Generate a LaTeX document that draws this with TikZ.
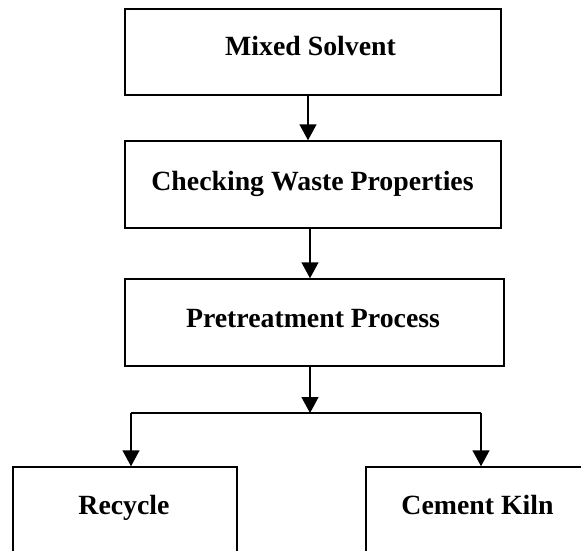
\documentclass[tikz,border=0pt]{standalone}
\usepackage{fontspec}
\setmainfont{Liberation Serif}
\usetikzlibrary{arrows.meta}
\tikzset{
  stagebox/.style={draw, line width=1.5pt, rectangle, inner sep=0pt},
  stagetext/.style={anchor=base, inner sep=0pt, font=\fontsize{27.8}{30}\selectfont\bfseries},
  flow/.style={line width=1.5pt, -{Triangle[width=17pt,length=16pt]}},
  link/.style={line width=1.5pt}
}
\begin{document}
\begin{tikzpicture}[x=1pt, y=-1pt]
  \useasboundingbox (0,0) rectangle (581,551);
  \clip (0,0) rectangle (581,551);

  % process boxes
  \node[stagebox, minimum width=376pt, minimum height=86pt] (mix) at (313,52) {};
  \node[stagebox, minimum width=376pt, minimum height=87pt] (check) at (313,184.5) {};
  \node[stagebox, minimum width=379pt, minimum height=87pt] (pre) at (314.5,322.5) {};
  \node[stagebox, minimum width=224pt, minimum height=98pt] (rec) at (125,516) {};
  \node[stagebox, minimum width=234pt, minimum height=98pt] (kiln) at (483,516) {};

  % labels
  \node[stagetext] (mixT) at (310.5,56) {Mixed Solvent};
  \node[stagetext] (checkT) at (312.5,190) {Checking Waste Properties};
  \node[stagetext] (preT) at (313,327) {Pretreatment Process};
  \node[stagetext] (recT) at (124,514) {Recycle};
  \node[stagetext] (kilnT) at (477.5,514) {Cement Kiln};

  % connectors
  \coordinate (c1) at (308,0);
  \coordinate (c2) at (310,0);
  \coordinate (mid) at (310,413);
  \coordinate (jl) at (131,413);
  \coordinate (jr) at (481,413);

  \draw[flow] (c1 |- mix.south) -- (c1 |- check.north);
  \draw[flow] (c2 |- check.south) -- (c2 |- pre.north);
  \draw[flow] (c2 |- pre.south) -- (mid);
  \draw[link] (jl) -- (jr);
  \draw[flow] (jl) -- (jl |- rec.north);
  \draw[flow] (jr) -- (jr |- kiln.north);
\end{tikzpicture}
\end{document}
